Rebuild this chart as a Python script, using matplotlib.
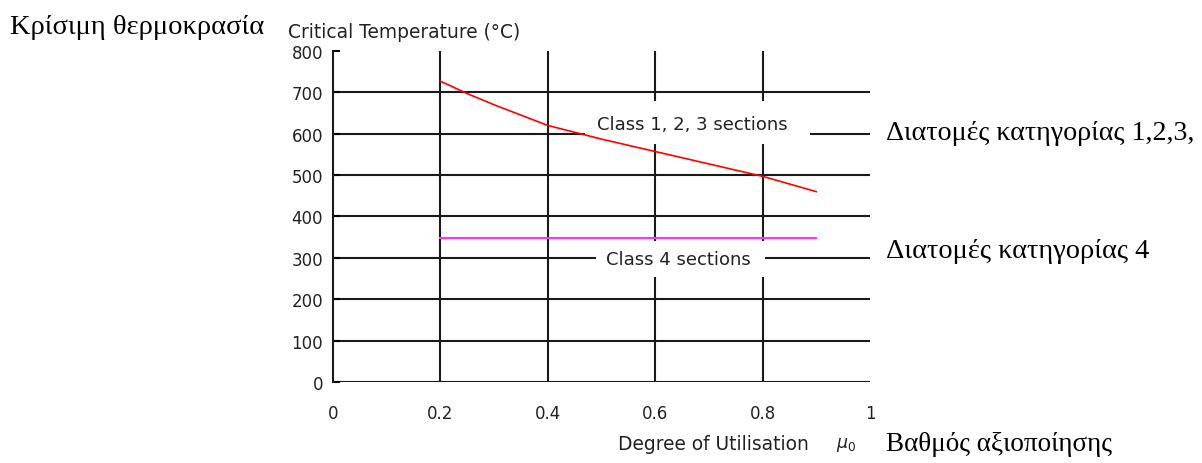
import matplotlib.pyplot as plt
from matplotlib.patches import Rectangle
import numpy as np

# utilisation degree and critical temperature
mu = [0.2, 0.25, 0.3, 0.4, 0.5, 0.6, 0.7, 0.8, 0.9]
temp_class123 = [727, 697, 670, 620, 587, 557, 527, 497, 460]
mu_class4 = [0.2, 0.9]
temp_class4 = [348, 348]

xticks = [0, 0.2, 0.4, 0.6, 0.8, 1]
xticklabels = ['0', '0.2', '0.4', '0.6', '0.8', '1']
yticks = [0, 100, 200, 300, 400, 500, 600, 700, 800]

fig = plt.figure(figsize=(12.02, 4.64), dpi=100)
ax = fig.add_axes([0.277, 0.1746, 0.4468, 0.7134])

sans = 'DejaVu Sans'
serif = 'Liberation Serif'
ink = '#1a1a1a'
txt = '#222222'

# grid drawn by hand so 800 gets no line and 0 is the bottom edge
for yv in yticks[:-1]:
    ax.axhline(yv, color=ink, lw=1.5, zorder=1)
for xv in xticks[1:-1]:
    ax.axvline(xv, color=ink, lw=1.5, zorder=1)

ax.plot(mu, temp_class123, color='#ff0000', lw=1.2, zorder=5)
ax.plot(mu_class4, temp_class4, color='#ff33ff', lw=1.5, zorder=5)

# white masks behind the curve labels
ax.add_patch(Rectangle((0.469, 575), 0.419, 104, facecolor='white',
                       edgecolor='none', zorder=3))
ax.add_patch(Rectangle((0.490, 254), 0.314, 87, facecolor='white',
                       edgecolor='none', zorder=3))
ax.text(0.6685, 623, 'Class 1, 2, 3 sections', fontsize=13, family=sans,
        ha='center', va='center', zorder=4, color=txt)
ax.text(0.6425, 297, 'Class 4 sections', fontsize=13, family=sans,
        ha='center', va='center', zorder=4, color=txt)

ax.set_xlim(0, 1)
ax.set_ylim(0, 800)
ax.set_xticks(xticks)
ax.set_xticklabels(xticklabels, family=sans, fontsize=12, color=txt)
ax.set_yticks(yticks)
ax.set_yticklabels([str(v) for v in yticks], family=sans, fontsize=12,
                   color=txt)
ax.tick_params(axis='x', length=0, pad=16)
ax.tick_params(axis='y', direction='in', length=5, width=1.5, pad=7)
for side in ['top', 'right', 'bottom']:
    ax.spines[side].set_visible(False)
ax.spines['left'].set_linewidth(1.5)
ax.spines['left'].set_color(ink)

fig.text(288 / 1202, 1 - 32 / 464, 'Critical Temperature (°C)', family=sans,
         fontsize=13.4, ha='left', va='center', color=txt)
fig.text(10 / 1202, 1 - 28 / 464, 'Κρίσιμη θερμοκρασία', family=serif,
         fontsize=20.5, ha='left', va='center')
fig.text(618 / 1202, 1 - 445 / 464, 'Degree of Utilisation', family=sans,
         fontsize=13.4, ha='left', va='center', color=txt)
fig.text(836 / 1202, 1 - 445 / 464, r'$\mu_\mathit{0}$', fontsize=12.5,
         ha='left', va='center', color=txt)
fig.text(886 / 1202, 1 - 445 / 464, 'Βαθμός αξιοποίησης', family=serif,
         fontsize=19.5, ha='left', va='center')
fig.text(886 / 1202, 1 - 133 / 464, 'Διατομές κατηγορίας 1,2,3,', family=serif,
         fontsize=20.2, ha='left', va='center')
fig.text(886 / 1202, 1 - 252 / 464, 'Διατομές κατηγορίας 4', family=serif,
         fontsize=20.4, ha='left', va='center')

fig.savefig('out.png', dpi=100)
